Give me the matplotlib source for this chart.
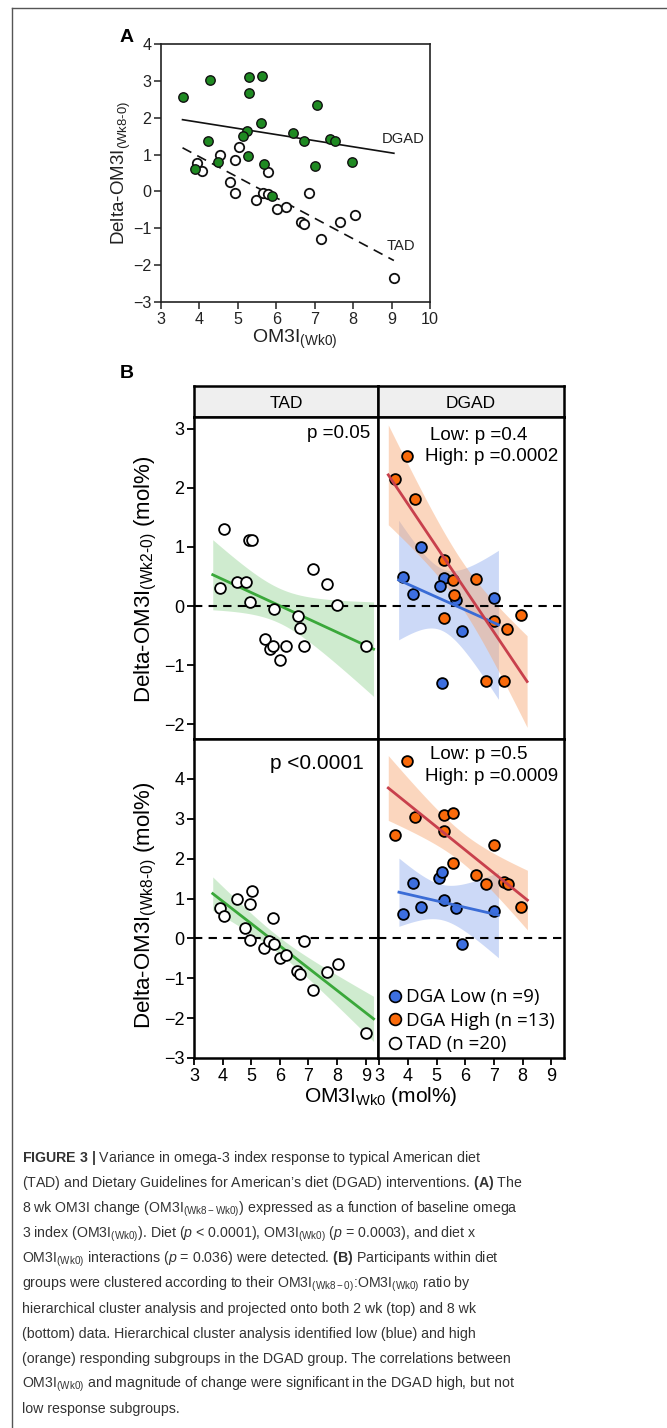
import numpy as np
import matplotlib
matplotlib.use('Agg')
import matplotlib.pyplot as plt
from matplotlib import font_manager as fm
from matplotlib.lines import Line2D

names = {f.name for f in fm.fontManager.ttflist}
HAS_NARROW = 'Liberation Sans Narrow' in names
NARROW = 'Liberation Sans Narrow' if HAS_NARROW else 'Liberation Sans'
SANS = 'Liberation Sans'
LEG = 'Open Sans'

plt.rcParams['font.family'] = [SANS, 'DejaVu Sans']
plt.rcParams['mathtext.fontset'] = 'custom'
plt.rcParams['mathtext.rm'] = NARROW
plt.rcParams['mathtext.it'] = NARROW + ':italic'
plt.rcParams['mathtext.bf'] = NARROW + ':bold'

# ---------------- data ----------------
# Panel A: 8-wk change vs baseline OM3I
a_dgad_wk0 = [3.56, 4.27, 5.30, 5.62, 5.30, 7.05, 5.61, 4.23, 5.23, 5.14, 6.43,
              6.72, 7.40, 7.53, 5.27, 4.49, 3.88, 5.69, 7.02, 7.96, 5.88]
a_dgad_d8 = [2.57, 3.03, 3.10, 3.13, 2.68, 2.34, 1.87, 1.38, 1.65, 1.50, 1.59,
             1.37, 1.41, 1.38, 0.96, 0.79, 0.60, 0.74, 0.70, 0.79, -0.12]
a_tad_wk0 = [3.93, 4.06, 4.54, 5.04, 4.93, 4.80, 4.93, 5.48, 5.66, 5.78, 5.79,
             6.03, 6.24, 6.64, 6.72, 6.85, 7.16, 7.65, 8.04, 9.06]
a_tad_d8 = [0.76, 0.55, 0.99, 1.20, 0.85, 0.26, -0.03, -0.24, -0.05, 0.53, -0.08,
            -0.48, -0.42, -0.84, -0.89, -0.05, -1.30, -0.84, -0.65, -2.35]

# Panel B bottom: week-8 change vs. baseline OM3I
tad_wk0 = [3.91, 4.06, 4.52, 5.01, 4.94, 4.79, 4.94, 5.45, 5.62, 5.76, 5.81,
           6.01, 6.23, 6.59, 6.71, 6.85, 7.15, 7.65, 8.03, 9.02]
tad_d8 = [0.75, 0.57, 0.98, 1.20, 0.85, 0.25, -0.03, -0.25, -0.07, 0.52, -0.13,
          -0.48, -0.42, -0.83, -0.90, -0.07, -1.30, -0.85, -0.65, -2.37]
high_wk0 = [3.97, 3.53, 4.25, 5.27, 5.58, 5.27, 7.00, 5.58, 6.39, 6.71, 7.36, 7.50, 7.95]
high_d8 = [4.46, 2.58, 3.04, 3.10, 3.15, 2.69, 2.34, 1.88, 1.59, 1.36, 1.41, 1.36, 0.79]
low_wk0 = [3.84, 4.19, 4.46, 5.08, 5.19, 5.25, 5.67, 5.87, 7.00]
low_d8 = [0.60, 1.38, 0.79, 1.51, 1.66, 0.96, 0.75, -0.13, 0.69]

# Panel B top: week-2 change vs. baseline OM3I
tad_wk0_w2 = [4.05, 3.91, 4.49, 4.80, 4.92, 5.03, 4.94, 5.80, 5.47, 5.64, 5.77,
              6.02, 6.23, 6.63, 6.71, 6.85, 7.16, 7.64, 8.01, 9.02]
tad_d2 = [1.31, 0.30, 0.41, 0.41, 1.12, 1.12, 0.07, -0.05, -0.55, -0.72, -0.67,
          -0.91, -0.67, -0.16, -0.37, -0.67, 0.62, 0.37, 0.01, -0.67]
high_wk0_w2 = [3.97, 3.53, 4.25, 5.26, 5.57, 5.60, 6.39, 5.27, 7.01, 7.47, 7.94, 6.71, 7.36]
high_d2 = [2.54, 2.15, 1.82, 0.78, 0.44, 0.18, 0.45, -0.20, -0.26, -0.38, -0.15, -1.26, -1.26]
low_wk0_w2 = [4.44, 3.83, 4.18, 5.25, 5.11, 5.67, 7.00, 5.87, 5.20]
low_d2 = [1.00, 0.50, 0.20, 0.48, 0.34, 0.10, 0.14, -0.42, -1.31]

facet_labels = ['TAD', 'DGAD']
p_top = ['p =0.05', 'Low: p =0.4', 'High: p =0.0002']
p_bot = ['p <0.0001', 'Low: p =0.5', 'High: p =0.0009']
legend_labels = ['DGA Low (n =9)', 'DGA High (n =13)', 'TAD (n =20)']

# ---------------- style ----------------
W, H = 667, 1428
GREEN_PT = '#1f8a22'
ORANGE = '#fa6a0a'
BLUE = '#3d6fe0'
GREEN_LINE = '#3aa83a'
RED_LINE = '#c8404c'
BLUE_LINE = '#3a6cd6'
T975 = {7: 2.365, 11: 2.201, 18: 2.101, 20: 2.086}
CAP_SIZE = 12.5 if HAS_NARROW else 10.2


def lm_fit(x, y, ext=0.05, npts=100):
    x = np.asarray(x, float)
    y = np.asarray(y, float)
    r = x.max() - x.min()
    xs = np.linspace(x.min() - ext * r, x.max() + ext * r, npts)
    b, a = np.polyfit(x, y, 1)
    n = len(x)
    s = np.sqrt(np.sum((y - (a + b * x)) ** 2) / (n - 2))
    se = s * np.sqrt(1.0 / n + (xs - x.mean()) ** 2 / np.sum((x - x.mean()) ** 2))
    return xs, a + b * xs, T975[n - 2] * se


def fr(l, t, r, b):
    return [l / W, 1 - b / H, (r - l) / W, (b - t) / H]


fig = plt.figure(figsize=(W / 100, H / 100), dpi=100)

# outer frame
fig.add_artist(Line2D([12 / W, 1.0], [1 - 8 / H, 1 - 8 / H], color='#555555', lw=1.0))
fig.add_artist(Line2D([12 / W, 12 / W], [0, 1 - 8 / H], color='#555555', lw=1.0))

# ---------------- Panel A ----------------
axA = fig.add_axes(fr(161, 44, 430, 302))
allx = np.array(a_dgad_wk0 + a_tad_wk0)
xs = np.linspace(allx.min(), allx.max(), 50)
b1, a1 = np.polyfit(a_dgad_wk0, a_dgad_d8, 1)
b2, a2 = np.polyfit(a_tad_wk0, a_tad_d8, 1)
axA.plot(xs, a1 + b1 * xs, color='#111111', lw=1.2, zorder=2)
axA.plot(xs, a2 + b2 * xs, color='#111111', lw=1.2, ls=(0, (6, 4)), zorder=2)
axA.scatter(a_tad_wk0, a_tad_d8, s=46, facecolor='white', edgecolor='#111111', lw=1.3, zorder=3)
axA.scatter(a_dgad_wk0, a_dgad_d8, s=46, facecolor=GREEN_PT, edgecolor='#111111', lw=1.0,
            zorder=4)
axA.set_xlim(3, 10)
axA.set_ylim(-3, 4)
axA.set_xticks(range(3, 11))
axA.set_yticks(range(-3, 5))
for s in axA.spines.values():
    s.set_linewidth(1.2)
    s.set_color('#222222')
axA.tick_params(direction='out', length=5, width=1.1, labelsize=11.6, colors='#222222',
                pad=2)
for lab in axA.get_xticklabels() + axA.get_yticklabels():
    lab.set_fontfamily(NARROW)
axA.text(9.3, 1.41, 'DGAD', fontsize=10.6, family=NARROW, ha='center', va='center',
         color='#222222')
axA.text(9.25, -1.48, 'TAD', fontsize=10.6, family=NARROW, ha='center', va='center',
         color='#222222')
fig.text(121 / W, 1 - 173 / H, 'Delta-OM3I$_{\\mathregular{(Wk8\u20100)}}$', rotation=90,
         ha='center', va='center', fontsize=13.5, family=SANS, color='#222222')
fig.text(295 / W, 1 - 339 / H, 'OM3I$_{\\mathregular{(Wk0)}}$', ha='center', va='center',
         fontsize=14, family=NARROW, color='#222222')
fig.text(127 / W, 1 - 38 / H, 'A', ha='center', va='center', fontsize=14, weight='bold')
fig.text(127 / W, 1 - 373 / H, 'B', ha='center', va='center', fontsize=14, weight='bold')

# ---------------- Panel B ----------------
cols = [(194, 378), (378, 564)]
rows = [(417, 739), (739, 1058)]
ylims = [(-2.25, 3.2), (-3, 5)]
yticks = [range(-2, 4), range(-3, 5)]
xlims = [(3, 9.43), (2.95, 9.45)]

top_data = [(tad_wk0_w2, tad_d2), (high_wk0_w2, high_d2), (low_wk0_w2, low_d2)]
bot_data = [(tad_wk0, tad_d8), (high_wk0, high_d8), (low_wk0, low_d8)]

for ci, (l, r) in enumerate(cols):
    sax = fig.add_axes(fr(l, 386, r, 417))
    sax.set_facecolor('#efefef')
    sax.set_xticks([])
    sax.set_yticks([])
    for s in sax.spines.values():
        s.set_linewidth(1.8)
    sax.text(0.5, 0.45, facet_labels[ci], transform=sax.transAxes, ha='center', va='center',
             fontsize=12.5)

axes = {}
for ri, (t, b) in enumerate(rows):
    data = top_data if ri == 0 else bot_data
    for ci, (l, r) in enumerate(cols):
        ax = fig.add_axes(fr(l, t, r, b))
        axes[(ri, ci)] = ax
        ax.set_xlim(*xlims[ci])
        ax.set_ylim(*ylims[ri])
        ax.axhline(0, color='black', lw=1.5, ls=(0, (4, 3)), zorder=2)
        if ci == 0:
            x, y = data[0]
            xs_, yh, ci95 = lm_fit(x, y)
            ax.fill_between(xs_, yh - ci95, yh + ci95, color='#a8dca8', alpha=0.55, lw=0, zorder=1)
            ax.plot(xs_, yh, color=GREEN_LINE, lw=2, zorder=3)
            ax.scatter(x, y, s=60, facecolor='white', edgecolor='black', lw=1.3, zorder=4)
        else:
            for (x, y), band in [(data[2], '#8fabee'), (data[1], '#f7a670')]:
                xs_, yh, ci95 = lm_fit(x, y)
                ax.fill_between(xs_, yh - ci95, yh + ci95, color=band, alpha=0.45, lw=0,
                                zorder=1)
            for (x, y), pc in [(data[2], BLUE), (data[1], ORANGE)]:
                ax.scatter(x, y, s=60, facecolor=pc, edgecolor='black', lw=1.3, zorder=4)
            for (x, y), lc in [(data[2], BLUE_LINE), (data[1], RED_LINE)]:
                xs_, yh, ci95 = lm_fit(x, y)
                ax.plot(xs_, yh, color=lc, lw=2, zorder=5)
        for s in ax.spines.values():
            s.set_linewidth(1.8)
        ax.tick_params(direction='out', length=5, width=1.3, labelsize=13, pad=2)
        if ci == 0:
            ax.set_yticks(list(yticks[ri]))
        else:
            ax.set_yticks([])
        if ri == 1:
            ax.set_xticks(range(3, 10))
        else:
            ax.set_xticks([])

# annotations
axes[(0, 0)].text(0.957, 0.950, p_top[0], transform=axes[(0, 0)].transAxes, ha='right',
                  va='center', fontsize=13.5)
axes[(0, 1)].text(0.543, 0.944, p_top[1], transform=axes[(0, 1)].transAxes, ha='center',
                  va='center', fontsize=13.5)
axes[(0, 1)].text(0.613, 0.876, p_top[2], transform=axes[(0, 1)].transAxes, ha='center',
                  va='center', fontsize=13.5)
axes[(1, 0)].text(0.668, 0.922, p_bot[0], transform=axes[(1, 0)].transAxes, ha='center',
                  va='center', fontsize=15)
axes[(1, 1)].text(0.543, 0.950, p_bot[1], transform=axes[(1, 1)].transAxes, ha='center',
                  va='center', fontsize=13.5)
axes[(1, 1)].text(0.613, 0.881, p_bot[2], transform=axes[(1, 1)].transAxes, ha='center',
                  va='center', fontsize=13.5)

handles = [Line2D([], [], ls='none', marker='o', ms=8.5, mfc=BLUE, mec='black', mew=1.2),
           Line2D([], [], ls='none', marker='o', ms=8.5, mfc=ORANGE, mec='black', mew=1.2),
           Line2D([], [], ls='none', marker='o', ms=8.5, mfc='white', mec='black', mew=1.2)]
axes[(1, 1)].legend(handles, legend_labels, loc='lower left', bbox_to_anchor=(0.035, 0.0),
                    frameon=False, prop={'family': LEG, 'size': 13.5}, handlelength=0.6,
                    handletextpad=0.3, labelspacing=0.3, borderpad=0.25, borderaxespad=0.0)

# B axis labels
fig.text(146 / W, 1 - 579 / H, 'Delta-OM3I$_{\\mathregular{(Wk2\u20100)}}$ (mol%)', rotation=90,
         ha='center', va='center', fontsize=16)
fig.text(146 / W, 1 - 905 / H, 'Delta-OM3I$_{\\mathregular{(Wk8\u20100)}}$ (mol%)', rotation=90,
         ha='center', va='center', fontsize=16)
fig.text(381 / W, 1 - 1097 / H, 'OM3I$_{\\mathregular{Wk0}}$ (mol%)', ha='center', va='center',
         fontsize=15)

# ---------------- caption ----------------
cap = [
    r'$\mathbf{FIGURE\ 3\ |}$ Variance in omega-3 index response to typical American diet',
    '(TAD) and Dietary Guidelines for American\u2019s diet (DGAD) interventions. $\\mathbf{(A)}$ The',
    '8 wk OM3I change (OM3I$_{\\mathrm{(Wk8-Wk0)}}$) expressed as a function of baseline omega',
    '3 index (OM3I$_{\\mathrm{(Wk0)}}$). Diet ($p$ < 0.0001), OM3I$_{\\mathrm{(Wk0)}}$ ($p$ = 0.0003), and diet x',
    'OM3I$_{\\mathrm{(Wk0)}}$ interactions ($p$ = 0.036) were detected. $\\mathbf{(B)}$ Participants within diet',
    'groups were clustered according to their OM3I$_{\\mathrm{(Wk8-0)}}$:OM3I$_{\\mathrm{(Wk0)}}$ ratio by',
    'hierarchical cluster analysis and projected onto both 2 wk (top) and 8 wk',
    '(bottom) data. Hierarchical cluster analysis identified low (blue) and high',
    '(orange) responding subgroups in the DGAD group. The correlations between',
    'OM3I$_{\\mathrm{(Wk0)}}$ and magnitude of change were significant in the DGAD high, but not',
    'low response subgroups.',
]
for i, line in enumerate(cap):
    yb = 1157 + 5 + i * 25.1
    fig.text(22 / W, 1 - yb / H, line, ha='left', va='baseline', fontsize=CAP_SIZE,
             family=NARROW, color='#333333')

fig.savefig('out.png', dpi=100)
